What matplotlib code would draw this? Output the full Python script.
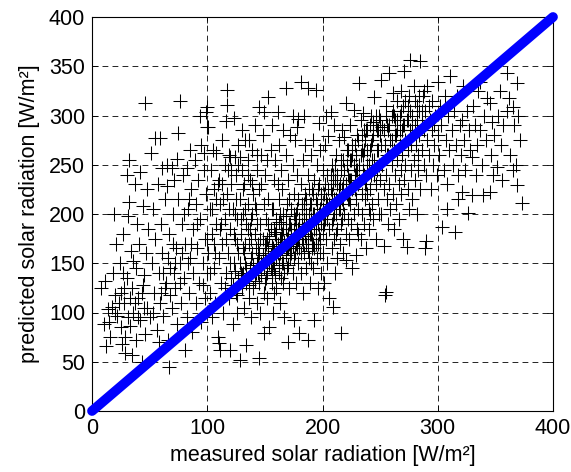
import matplotlib
matplotlib.use("Agg")
import matplotlib.pyplot as plt
import numpy as np

plt.rcParams['font.family'] = ['Liberation Sans', 'DejaVu Sans']

# (measured, predicted) pairs, grouped by measured range
band_000_050 = [(8,125),(10,88),(12,66),(14,104),(15,90),(17,106),(18,140),(20,118),(11,132),(16,75),
(22,96),(24,150),(25,120),(26,68),(27,180),(28,110),(29,75),(29,59),(30,135),(31,198),
(32,212),(32,255),(33,86),(34,162),(35,125),(36,100),(37,230),(38,145),(38,72),(39,190),
(40,115),(41,170),(42,243),(42,92),(43,50),(44,208),(45,138),(46,313),(46,78),(47,160),
(48,225),(48,105),(49,185),(30,240),(35,57),(21,170),(19,200),(44,128),(36,152),(27,140),
(20,100),(23,110),(25,85),(28,125),(31,95),(33,115),(37,110),(40,95),(43,120),(45,105)]

band_050_100 = [(50,95),(51,262),(52,150),(53,205),(54,120),(55,277),(55,175),(56,82),(57,230),(58,140),
(59,277),(59,110),(60,190),(61,247),(61,160),(62,96),(63,215),(64,130),(65,250),(66,72),
(67,45),(67,180),(68,145),(69,247),(69,105),(70,200),(71,235),(72,125),(73,165),(74,88),
(75,282),(75,215),(76,315),(76,150),(77,110),(78,190),(79,240),(80,135),(81,62),(81,170),
(82,247),(82,95),(83,205),(84,120),(85,265),(85,155),(86,225),(87,80),(88,185),(88,140),
(89,255),(90,110),(90,210),(91,165),(92,235),(93,130),(94,300),(94,195),(95,270),(95,90),
(96,150),(97,245),(98,175),(98,115),(99,304),(99,220),(100,309),(100,140),(100,288),(97,262),
(53,100),(58,70),(63,125),(71,140),(78,160),(84,215),(91,190),(96,128),(65,228),(74,256),
(60,120),(62,140),(66,155),(68,118),(70,170),(72,150),(76,130),(80,200),(83,150),(86,170)]

band_100_150 = [(101,288),(101,160),(102,205),(102,120),(103,245),(104,95),(104,180),(105,265),(106,145),(106,225),
(107,110),(108,262),(108,190),(109,75),(110,69),(110,155),(110,235),(111,62),(111,210),(112,130),
(113,275),(113,170),(114,100),(115,250),(115,195),(116,294),(116,140),(117,326),(117,311),(117,220),
(118,160),(119,115),(119,260),(120,258),(120,185),(120,62),(121,135),(121,230),(122,88),(122,205),
(123,297),(123,150),(124,258),(124,175),(125,120),(125,240),(126,195),(126,100),(127,270),(127,160),
(128,258),(128,52),(128,215),(129,140),(129,180),(130,285),(130,125),(130,245),(131,200),(131,165),
(132,105),(132,230),(133,150),(133,275),(134,67),(134,190),(134,130),(135,210),(135,255),(136,275),
(136,170),(136,115),(137,145),(137,235),(138,95),(138,195),(139,160),(139,265),(140,220),(140,125),
(141,180),(141,290),(142,140),(142,205),(143,110),(143,245),(144,170),(144,155),(145,309),(145,54),
(145,225),(145,130),(146,190),(146,100),(147,260),(147,150),(148,280),(148,175),(149,304),(149,79),
(149,210),(149,120),(102,140),(106,170),(111,185),(115,125),(118,245),(124,200),(127,135),(131,140),
(135,185),(139,200),(143,190),(147,230),(108,215),(113,230),(120,150),(126,170),(133,170),(138,175),
(100,175),(104,205),(107,160),(109,230),(112,190),(114,215),(116,175),(119,205),(121,245),(123,180),
(125,215),(127,250),(129,195),(131,225),(133,205),(135,240),(137,185),(139,230),(141,210),(143,260),
(122,128),(124,142),(126,118),(128,150),(130,138),(132,160),(134,145),(136,128),(138,155),(140,148),
(141,132),(142,165),(143,150),(144,140),(145,160),(146,175),(147,138),(148,158),(149,145)]

band_150_200 = [(150,160),(150,240),(151,135),(151,195),(152,175),(152,115),(153,319),(153,215),(154,150),(154,85),
(155,185),(155,265),(156,130),(156,205),(157,165),(157,100),(158,235),(158,145),(159,180),(159,255),
(160,125),(160,195),(161,304),(161,160),(162,270),(162,215),(162,140),(163,175),(163,110),(164,245),
(164,190),(165,150),(165,225),(166,130),(166,200),(167,170),(167,95),(168,328),(168,260),(168,185),
(169,145),(169,210),(170,70),(170,165),(170,235),(171,125),(171,190),(172,155),(172,280),(173,205),
(173,175),(174,140),(174,250),(175,92),(175,185),(175,220),(176,275),(176,160),(177,130),(177,200),
(178,288),(178,175),(178,240),(179,296),(179,150),(179,215),(180,79),(180,190),(180,165),(181,334),
(181,230),(181,140),(182,205),(182,175),(183,255),(183,120),(184,185),(184,160),(185,220),(185,270),
(186,145),(186,200),(187,328),(187,72),(187,175),(187,240),(188,190),(188,155),(189,210),(189,130),
(190,260),(190,180),(191,225),(191,165),(192,275),(192,200),(192,145),(193,92),(193,185),(193,235),
(194,326),(194,170),(194,215),(195,250),(195,155),(196,195),(196,125),(197,230),(197,180),(198,205),
(198,265),(198,160),(199,140),(199,215),(200,185),(200,245),(151,170),(153,190),(155,145),(157,205),
(158,120),(160,175),(161,230),(163,200),(165,180),(167,140),(169,175),(171,215),(173,160),(176,195),
(177,170),(179,185),(182,190),(184,210),(186,170),(188,225),(190,150),(192,170),(194,195),(196,170),
(199,190),(152,255),(156,290),(166,285),(174,300),(184,300),(197,292),
(150,170),(150,130),(151,152),(152,140),(153,165),(154,178),(155,158),(156,142),(156,168),(157,150),
(158,185),(158,162),(159,138),(160,155),(160,182),(161,170),(162,148),(162,192),(163,160),(164,175),
(164,135),(165,165),(166,185),(166,150),(167,172),(168,158),(168,198),(169,165),(170,180),(170,148),
(171,170),(172,190),(172,160),(173,185),(174,168),(175,200),(175,155),(176,178),(177,190),(178,165),
(178,205),(179,175),(180,195),(180,180),(181,160),(182,210),(183,185),(183,170),(184,195),(185,178),
(186,215),(186,188),(187,162),(188,200),(189,180),(190,210),(190,195),(191,175),(192,220),(193,200),
(193,165),(194,185),(195,210),(196,225),(196,190),(197,200),(198,175),(199,220)]

band_200_250 = [(200,160),(201,130),(201,220),(202,195),(202,270),(203,299),(203,175),(204,240),(204,150),(205,279),
(205,205),(206,185),(206,115),(207,304),(207,225),(208,165),(208,250),(209,106),(209,195),(210,215),
(210,290),(210,175),(211,140),(211,235),(212,200),(212,260),(213,185),(213,155),(214,225),(214,275),
(215,205),(215,170),(216,79),(216,245),(216,190),(217,285),(217,215),(218,160),(218,230),(219,278),
(219,200),(220,313),(220,153),(220,180),(221,250),(221,220),(222,195),(222,265),(223,175),(223,235),
(224,210),(224,290),(225,190),(225,255),(226,145),(226,225),(227,306),(227,200),(228,240),(228,270),
(229,158),(229,215),(230,185),(230,280),(231,230),(231,205),(232,333),(232,250),(233,175),(233,295),
(234,220),(234,200),(235,303),(235,260),(236,190),(236,240),(237,275),(237,215),(238,165),(238,230),
(239,285),(239,250),(240,205),(240,185),(241,265),(241,225),(242,300),(242,240),(243,210),(243,275),
(244,293),(244,195),(245,319),(245,255),(246,230),(246,175),(247,285),(247,245),(248,215),(248,265),
(249,200),(249,300),(250,235),(250,280),(204,210),(209,240),(213,230),(218,255),(222,215),(226,260),
(231,180),(236,285),(241,200),(246,290),(212,180),(217,195),(224,235),(229,245),(234,265),(239,220),
(200,205),(201,190),(202,230),(203,215),(204,195),(205,225),(206,210),(207,240),(208,190),(208,220),
(209,230),(210,200),(211,250),(212,215),(213,240),(214,205),(215,230),(216,255),(217,225),(218,210),
(219,245),(220,230),(221,265),(222,240),(223,215),(224,255),(225,235),(226,270),(227,250),(228,225),
(229,260),(230,245),(231,275),(232,235),(233,260),(234,280),(235,245),(236,265),(237,230),(238,285),
(239,265),(240,250),(241,290),(242,270),(243,255),(244,280),(245,240),(246,300),(247,265),(248,285),
(249,250),(250,295)]

band_250_300 = [(251,336),(251,200),(252,288),(252,250),(253,168),(253,225),(254,118),(254,270),(255,121),(255,310),
(255,240),(256,215),(256,290),(257,260),(257,190),(258,343),(258,230),(259,275),(259,205),(260,250),
(260,300),(261,323),(261,220),(262,185),(262,265),(263,240),(263,295),(264,210),(264,280),(265,255),
(265,315),(266,230),(266,195),(267,270),(267,300),(268,245),(268,220),(269,285),(269,260),(270,175),
(270,310),(271,235),(271,345),(272,275),(272,250),(273,166),(273,295),(274,225),(274,265),(275,320),
(275,205),(276,356),(276,285),(277,245),(277,270),(278,300),(278,215),(279,330),(279,255),(280,235),
(280,290),(281,270),(282,200),(282,310),(283,260),(283,245),(284,280),(285,355),(285,225),(286,295),
(286,265),(287,320),(288,250),(288,285),(289,165),(289,305),(290,173),(290,240),(291,275),(291,330),
(292,260),(293,295),(294,225),(295,285),(295,315),(296,250),(297,270),(298,300),(299,240),(300,334),
(300,280),(262,300),(268,325),(274,310),(284,305),(292,310),(297,290),(257,285),(265,285),(271,290),
(251,270),(253,285),(255,300),(256,260),(258,290),(260,275),(261,305),(263,280),(265,295),(267,285),
(268,305),(270,290),(272,315),(274,295),(276,305),(278,285),(280,315),(282,295),(284,320),(286,305),
(288,325)]

band_300_375 = [(301,260),(302,310),(303,290),(304,187),(305,245),(306,320),(307,275),(308,230),(309,300),(310,265),
(311,340),(312,285),(313,250),(314,305),(315,182),(316,270),(317,320),(318,240),(319,290),(320,260),
(321,222),(321,295),(322,330),(323,275),(324,245),(325,305),(326,201),(327,285),(328,265),(330,219),
(330,258),(331,310),(332,290),(334,270),(335,325),(337,334),(337,285),(338,250),(339,219),(340,300),
(342,275),(343,318),(345,313),(345,222),(346,260),(347,293),(349,280),(351,248),(352,300),(354,325),
(355,270),(357,290),(360,343),(362,318),(363,260),(365,309),(365,245),(366,290),(369,333),(369,229),
(370,300),(371,275),(373,211),(368,250),(360,305),(356,235),(348,240),(333,240),(318,215),(308,205)]

# ideal-fit diagonal
diag_measured = [0, 400]
diag_predicted = [0, 400]

x_ticks = [0, 100, 200, 300, 400]
y_ticks = [0, 50, 100, 150, 200, 250, 300, 350, 400]

bands = [band_000_050, band_050_100, band_100_150, band_150_200,
         band_200_250, band_250_300, band_300_375]
pts = np.array([p for b in bands for p in b], dtype=float)

fig = plt.figure(figsize=(5.71, 4.72), dpi=100)
ax = fig.add_axes([92/571, 1-411/472, 461/571, 394/472])

ax.plot(pts[:, 0], pts[:, 1], linestyle='none', marker='+', color='black',
        markersize=10, markeredgewidth=0.75, zorder=2)
ax.plot(diag_measured, diag_predicted, color='#0000ff', lw=7,
        solid_capstyle='round', clip_on=False, zorder=3)

ax.set_xlim(0, 400)
ax.set_ylim(0, 400)
ax.set_xticks(x_ticks)
ax.set_yticks(y_ticks)
ax.grid(True, color='black', linestyle=(0, (7, 5)), linewidth=0.6)
ax.set_axisbelow(True)
ax.tick_params(direction='in', length=4, width=0.6, labelsize=15.5,
               top=True, right=True, pad=5)
for s in ax.spines.values():
    s.set_linewidth(0.8)

ax.set_xlabel('measured solar radiation [W/m²]', fontsize=15.5, labelpad=4)
ax.set_ylabel('predicted solar radiation [W/m²]', fontsize=15.5, labelpad=6)

fig.savefig('out.png', dpi=100)
